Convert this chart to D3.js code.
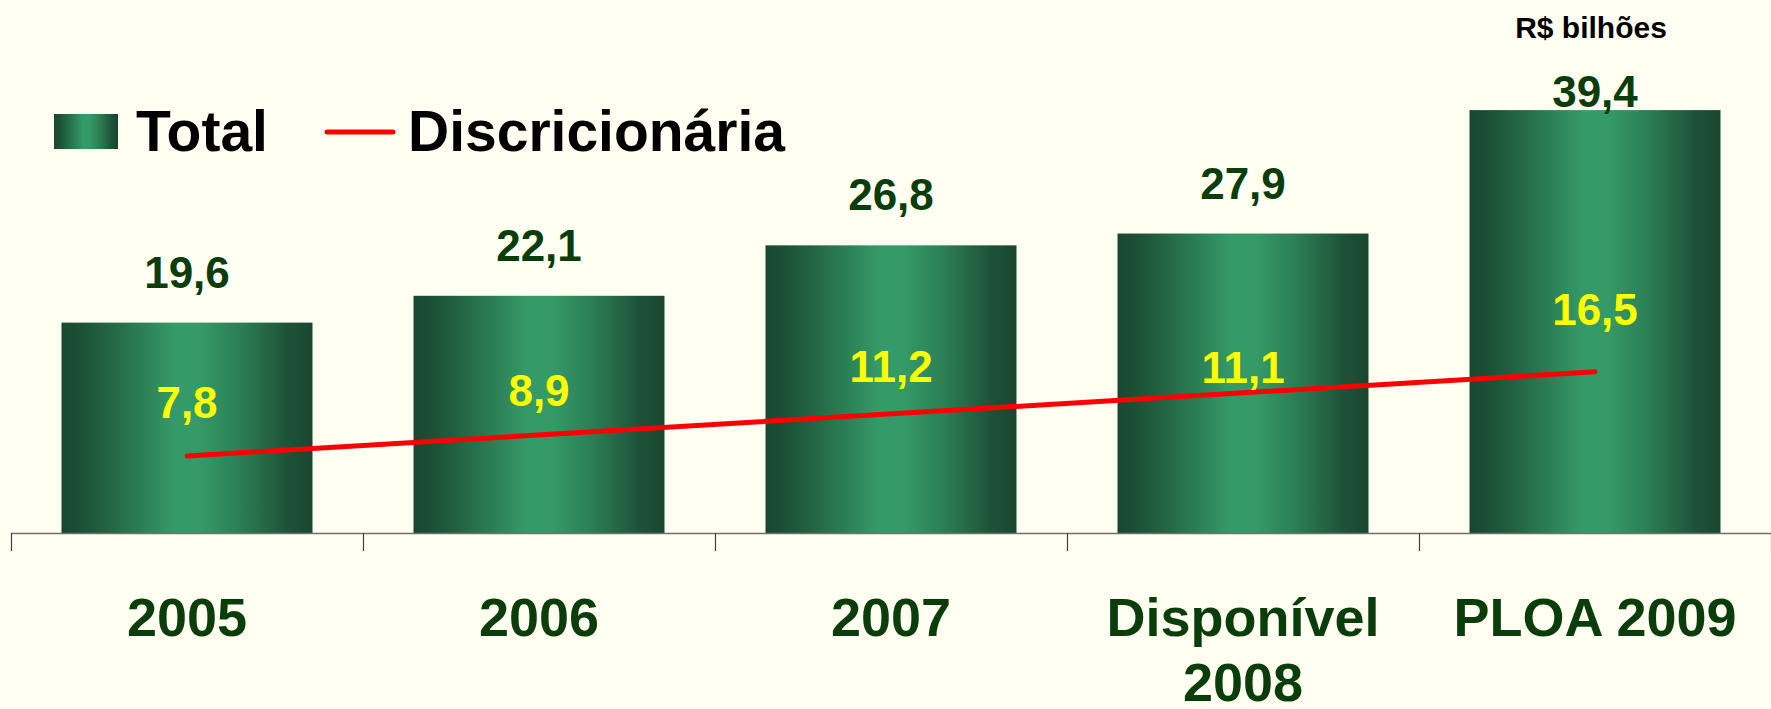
<!DOCTYPE html>
<html>
<head>
<meta charset="utf-8">
<script src="https://cdn.jsdelivr.net/npm/d3@7"></script>
<style>
  html, body { margin: 0; padding: 0; background: #FFFFF2; }
  svg { display: block; font-family: "Liberation Sans", Arial, sans-serif; font-weight: bold; }
</style>
</head>
<body>
<div id="chart"></div>
<script>
// categories and values (R$ bilhões)
const categories = ["2005", "2006", "2007", "Disponível\n2008", "PLOA 2009"];
const totalValues = [19.6, 22.1, 26.8, 27.9, 39.4];
const discricValues = [7.8, 8.9, 11.2, 11.1, 16.5];
const unitNote = "R$ bilhões";

const fmt = v => d3.format(".1f")(v).replace(".", ",");

const width = 1771, height = 709;
const baseY = 533, topY = 50;

const svg = d3.select("#chart").append("svg")
  .attr("width", width)
  .attr("height", height);

// horizontal gradient for the bars
const grad = svg.append("defs").append("linearGradient")
  .attr("id", "barGrad")
  .attr("x1", "0%").attr("x2", "100%").attr("y1", "0%").attr("y2", "0%");
[[0, "#1a4630"], [0.1, "#1d5438"], [0.3, "#2b7b52"], [0.45, "#349a68"], [0.55, "#349a68"],
 [0.72, "#2b7d53"], [0.9, "#1e5238"], [1, "#1a4630"]].forEach(s => {
  grad.append("stop").attr("offset", s[0]).attr("stop-color", s[1]);
});

var x = d3.scaleBand()
  .domain(categories)
  .range([11, width])
  .paddingInner(0.287)
  .paddingOuter(0.1435);

var y = d3.scaleLinear().domain([0, 45]).range([baseY, topY]);

const rows = categories.map((c, i) => ({cat: c, idx: i + 1, total: totalValues[i], disc: discricValues[i]}));
const cx = d => x(d.cat) + x.bandwidth() / 2;

// bars
svg.selectAll(".bar")
  .data(rows)
  .enter()
  .append("rect")
  .attr("class", "bar")
  .attr("x", d => x(d.cat))
  .attr("y", d => y(d.total))
  .attr("width", x.bandwidth())
  .attr("height", d => baseY - y(d.total))
  .attr("fill", "url(#barGrad)");

// axis line and ticks at band boundaries
const half = x.step() * x.paddingInner() / 2;
svg.append("line")
  .attr("x1", 11).attr("x2", width)
  .attr("y1", baseY + 0.5).attr("y2", baseY + 0.5)
  .attr("stroke", "#707070").attr("stroke-width", 1.5);
const bounds = categories.map(c => x(c) - half).concat([x(categories[categories.length - 1]) + x.bandwidth() + half]);
svg.selectAll(".tick")
  .data(bounds)
  .enter()
  .append("line")
  .attr("class", "tick")
  .attr("x1", d => Math.round(d) + 0.5).attr("x2", d => Math.round(d) + 0.5)
  .attr("y1", baseY).attr("y2", baseY + 18)
  .attr("stroke", "#404040").attr("stroke-width", 1.2);

// category labels
const catText = svg.selectAll(".cat")
  .data(categories)
  .enter()
  .append("text")
  .attr("class", "cat")
  .attr("text-anchor", "middle")
  .attr("font-size", 54)
  .attr("fill", "#0b3d0b")
  .attr("y", 636);
catText.each(function(d) {
  const t = d3.select(this);
  d.split("\n").forEach((line, i) => {
    t.append("tspan")
      .attr("x", x(d) + x.bandwidth() / 2)
      .attr("dy", i === 0 ? 0 : 65)
      .text(line);
  });
});

// total labels above bars
svg.selectAll(".totLabel")
  .data(rows)
  .enter()
  .append("text")
  .attr("class", "totLabel")
  .attr("text-anchor", "middle")
  .attr("font-size", 44)
  .attr("fill", "#0b3d0b")
  .attr("x", cx)
  .attr("y", d => {
    const ty = y(d.total) - 35;
    return ty < 100 ? y(d.total) - 3 : ty;
  })
  .text(d => fmt(d.total));

// linear trend of the discretionary series (least squares)
const mx = d3.mean(rows, d => d.idx), my = d3.mean(rows, d => d.disc);
const slope = d3.sum(rows, d => (d.idx - mx) * (d.disc - my)) / d3.sum(rows, d => (d.idx - mx) ** 2);
const trend = i => my + slope * (i - mx);
const ends = [rows[0], rows[rows.length - 1]];

var line = d3.line()
  .x(d => cx(d))
  .y(d => y(trend(d.idx)));
svg.append("path")
  .datum(ends)
  .attr("fill", "none")
  .attr("stroke", "#ff0000")
  .attr("stroke-width", 5)
  .attr("stroke-linecap", "round")
  .attr("d", line);

// discretionary labels
svg.selectAll(".discLabel")
  .data(rows)
  .enter()
  .append("text")
  .attr("class", "discLabel")
  .attr("text-anchor", "middle")
  .attr("font-size", 44)
  .attr("fill", "#ffff00")
  .attr("x", cx)
  .attr("y", d => y(d.disc) - 31)
  .text(d => fmt(d.disc));

// unit note
svg.append("text")
  .attr("text-anchor", "middle")
  .attr("font-size", 30)
  .attr("fill", "#000")
  .attr("x", 1591)
  .attr("y", 38)
  .text(unitNote);

// legend
const legend = svg.append("g");
legend.append("rect")
  .attr("x", 54).attr("y", 114)
  .attr("width", 64).attr("height", 35)
  .attr("fill", "url(#barGrad)");
legend.append("text")
  .attr("x", 136).attr("y", 151)
  .attr("font-size", 57)
  .attr("fill", "#000")
  .text("Total");
legend.append("line")
  .attr("x1", 327).attr("x2", 393)
  .attr("y1", 132).attr("y2", 132)
  .attr("stroke", "#ff0000")
  .attr("stroke-width", 5)
  .attr("stroke-linecap", "round");
legend.append("text")
  .attr("x", 408).attr("y", 151)
  .attr("font-size", 57)
  .attr("fill", "#000")
  .text("Discricionária");
</script>
</body>
</html>
